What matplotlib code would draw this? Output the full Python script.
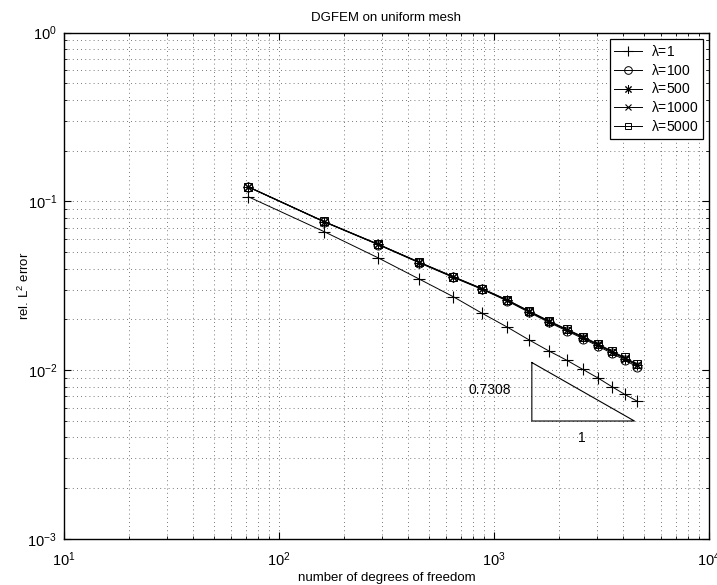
import matplotlib
matplotlib.use("Agg")
import matplotlib.pyplot as plt
from matplotlib.ticker import LogLocator, NullFormatter

plt.rcParams['font.family'] = ['Liberation Sans', 'DejaVu Sans']
plt.rcParams['mathtext.default'] = 'regular'

# degrees of freedom (uniform refinement)
dofs = [72, 162, 288, 450, 648, 882, 1152, 1458, 1800, 2178, 2592, 3042, 3528, 4050, 4608]

err_lam1 = [0.1065, 0.0662, 0.0464, 0.0346, 0.0272, 0.0217, 0.0180, 0.0151,
            0.0130, 0.01146, 0.0101, 0.0090, 0.0080, 0.0072, 0.00658]
err_lam100 = [0.1215, 0.0756, 0.0555, 0.0432, 0.0354, 0.0301, 0.0257, 0.0220,
              0.0192, 0.0171, 0.0154, 0.0139, 0.0126, 0.0115, 0.0105]
err_lam500 = [0.1218, 0.0758, 0.0557, 0.0434, 0.0356, 0.0302, 0.0259, 0.0222,
              0.0194, 0.0173, 0.0156, 0.0141, 0.0128, 0.0117, 0.0107]
err_lam1000 = [0.1219, 0.0759, 0.0558, 0.0435, 0.0357, 0.0303, 0.0260, 0.0223,
               0.0195, 0.0174, 0.0157, 0.0142, 0.0129, 0.0118, 0.0108]
err_lam5000 = [0.1220, 0.0760, 0.0559, 0.0436, 0.0358, 0.0304, 0.0261, 0.0224,
               0.0196, 0.0175, 0.0158, 0.0143, 0.0130, 0.0119, 0.0109]

# slope triangle
tri_x = [1500, 1500, 4500, 1500]
tri_y = [0.0111, 0.0050, 0.0050, 0.0111]
rate = 0.7308

fig = plt.figure(figsize=(7.17, 5.85), dpi=100)
ax = fig.add_axes([0.0893, 0.0786, 0.8995, 0.8658])

ax.loglog(dofs, err_lam1, 'k-', marker='+', ms=8, mew=0.8, lw=0.7, label=r'$\lambda$=1')
ax.loglog(dofs, err_lam100, 'k-', marker='o', ms=6.5, mfc='none', mew=0.7, lw=0.7, label=r'$\lambda$=100')
ax.loglog(dofs, err_lam500, 'k-', marker=(8, 2, 0), ms=7, mew=0.7, lw=0.7, label=r'$\lambda$=500')
ax.loglog(dofs, err_lam1000, 'k-', marker='x', ms=5.5, mew=0.8, lw=0.7, label=r'$\lambda$=1000')
ax.loglog(dofs, err_lam5000, 'k-', marker='s', ms=5.5, mfc='none', mew=0.7, lw=0.7, label=r'$\lambda$=5000')

ax.plot(tri_x, tri_y, 'k-', lw=0.8)
ax.text(957, 0.0076, f'{rate}', fontsize=10, ha='center', va='center')
ax.text(2560, 0.00396, '1', fontsize=10, ha='center', va='center')

ax.set_xlim(10, 1e4)
ax.set_ylim(1e-3, 1)
ax.xaxis.set_major_locator(LogLocator(base=10, numticks=10))
ax.yaxis.set_major_locator(LogLocator(base=10, numticks=10))
ax.xaxis.set_minor_locator(LogLocator(base=10, subs=range(2, 10), numticks=20))
ax.yaxis.set_minor_locator(LogLocator(base=10, subs=range(2, 10), numticks=20))
ax.xaxis.set_minor_formatter(NullFormatter())
ax.yaxis.set_minor_formatter(NullFormatter())

ax.grid(True, which='both', linestyle=(0, (1, 4)), color='0.3', lw=0.6)
ax.tick_params(which='both', direction='in', top=True, right=True, labelsize=10.5)
ax.tick_params(axis='x', which='major', pad=8)
ax.tick_params(axis='y', which='major', pad=5)
ax.tick_params(which='major', length=5)
ax.tick_params(which='minor', length=2.5)
for s in ax.spines.values():
    s.set_linewidth(1.0)

ax.set_title('DGFEM on uniform mesh', fontsize=9.5, pad=8)
ax.set_xlabel('number of degrees of freedom', fontsize=9.5, labelpad=2)
ax.set_ylabel('rel. L$^2$ error', fontsize=9.5)
ax.yaxis.set_label_coords(-0.05, 0.5)

leg = ax.legend(loc='upper right', fontsize=10, fancybox=False, framealpha=1,
                edgecolor='k', handlelength=2.0, handletextpad=0.6,
                borderaxespad=0.45, labelspacing=0.28, borderpad=0.35,
                markerscale=0.85)
leg.get_frame().set_linewidth(0.9)

fig.savefig('out.png', dpi=100)
